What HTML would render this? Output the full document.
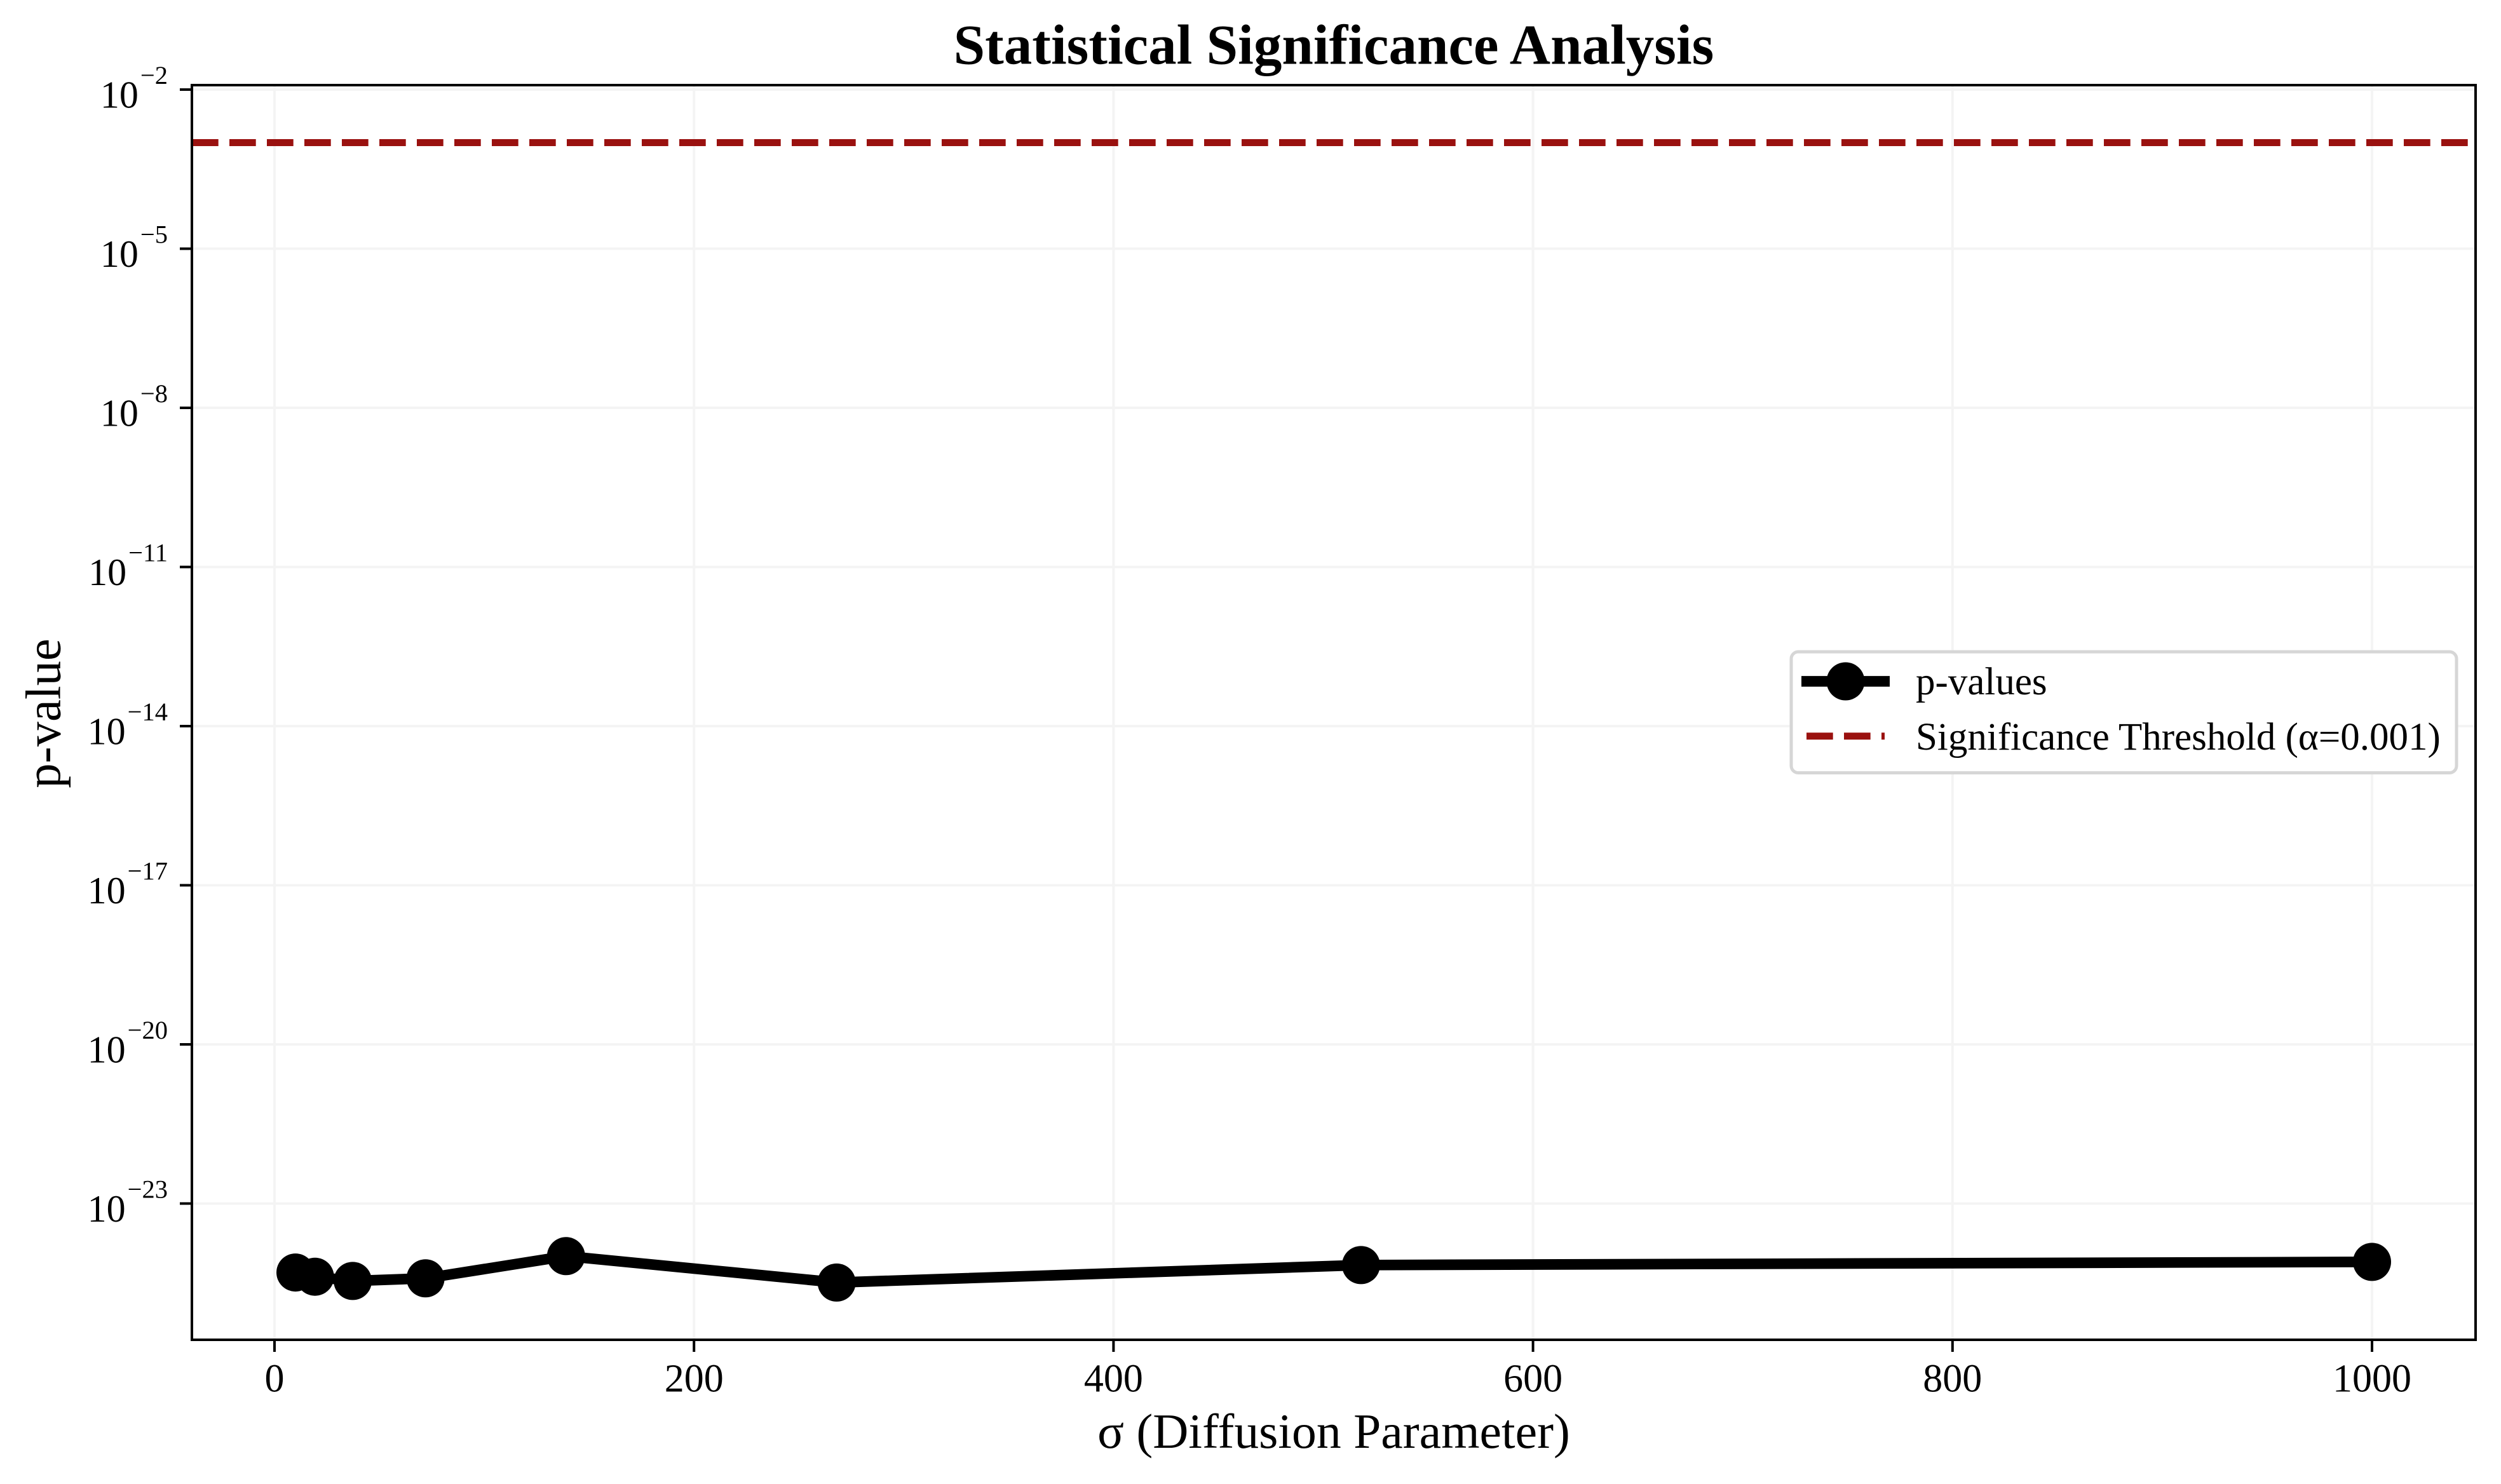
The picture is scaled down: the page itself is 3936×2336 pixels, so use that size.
<!DOCTYPE html>
<html lang="en">
<head>
<meta charset="utf-8">
<title>Statistical Significance Analysis</title>
<style>
html,body{margin:0;padding:0;background:#fff;}
svg{display:block;}
text{font-family:"Liberation Serif","Times New Roman",serif;fill:#000;}
</style>
</head>
<body>
<svg id="chart" xmlns="http://www.w3.org/2000/svg" width="3936" height="2336" viewBox="0 0 3936 2336">
  <rect x="0" y="0" width="3936" height="2336" fill="#ffffff"/>
  <g id="grid"></g>
  <g id="threshold"></g>
  <g id="series"></g>
  <rect x="302" y="134" width="3594" height="1975" fill="none" stroke="#000" stroke-width="4"/>
  <g id="xticks"></g>
  <g id="yticks"></g>
  <text x="2099" y="100.5" text-anchor="middle" font-size="89" font-weight="bold">Statistical Significance Analysis</text>
  <text x="2099" y="2279" text-anchor="middle" font-size="77.7">σ (Diffusion Parameter)</text>
  <text transform="translate(94.5 1123) rotate(-90)" text-anchor="middle" font-size="78.5">p-value</text>
  <g>
    <rect x="2819" y="1026" width="1047" height="190.5" rx="11" ry="11" fill="#ffffff" stroke="#d6d6d6" stroke-width="5"/>
    <line x1="2835" y1="1072.5" x2="2974" y2="1072.5" stroke="#000" stroke-width="16.7"/>
    <circle cx="2904.5" cy="1072.5" r="30" fill="#000"/>
    <text x="3015" y="1093" font-size="61">p-values</text>
    <line x1="2843" y1="1158.7" x2="2966" y2="1158.7" stroke="#9a110f" stroke-width="11" stroke-dasharray="41.7 17.3"/>
    <text x="3015" y="1180" font-size="61">Significance Threshold (α=0.001)</text>
  </g>
</svg>
<script>
var sigmaValues = [10, 19.3, 37.3, 72, 139, 268, 518, 1000];
var pValues = [5.01e-25, 4.17e-25, 3.47e-25, 3.89e-25, 1.02e-24, 3.24e-25, 6.92e-25, 7.94e-25];
var thresholdValue = 0.001;
var xTickValues = [0, 200, 400, 600, 800, 1000];
var yTickExponents = [-2, -5, -8, -11, -14, -17, -20, -23];

function xScale(v) { return 432 + v * 3.301; }
function yScale(p) { return 141 + (-2 - Math.log10(p)) * 83.5; }

var NS = 'http://www.w3.org/2000/svg';
var gridLayer = document.getElementById('grid');
var xTickLayer = document.getElementById('xticks');
var yTickLayer = document.getElementById('yticks');
var thresholdLayer = document.getElementById('threshold');
var seriesLayer = document.getElementById('series');

function drawLine(parent, x1, y1, x2, y2, color, width) {
  var l = document.createElementNS(NS, 'line');
  l.setAttribute('x1', x1);
  l.setAttribute('y1', y1);
  l.setAttribute('x2', x2);
  l.setAttribute('y2', y2);
  l.setAttribute('stroke', color);
  l.setAttribute('stroke-width', width);
  parent.appendChild(l);
  return l;
}

xTickValues.forEach(function (v) {
  var px = xScale(v);
  var g = drawLine(gridLayer, px, 134, px, 2109, '#f4f4f4', 4);
  
  
  var t = drawLine(xTickLayer, px, 2109, px, 2128, '#000', 4);
  
  
  var label = document.createElementNS(NS, 'text');
  
  
  label.setAttribute('x', px);
  label.setAttribute('y', 2190.5);
  label.setAttribute('text-anchor', 'middle');
  label.setAttribute('font-size', 62);
  label.textContent = String(v);
  xTickLayer.appendChild(label);
});

yTickExponents.forEach(function (e) {
  var py = yScale(Math.pow(10, e));
  var g = drawLine(gridLayer, 302, py, 3896, py, '#f4f4f4', 4);
  
  
  var t = drawLine(yTickLayer, 283, py, 302, py, '#000', 4);
  
  
  var label = document.createElementNS(NS, 'text');
  
  
  label.setAttribute('x', 264);
  label.setAttribute('y', py + 28.5);
  label.setAttribute('text-anchor', 'end');
  label.setAttribute('font-size', 60);
  var base = document.createElementNS(NS, 'tspan');
  base.textContent = '10';
  label.appendChild(base);
  var sup = document.createElementNS(NS, 'tspan');
  sup.setAttribute('font-size', 40.5);
  sup.setAttribute('dx', 3);
  sup.setAttribute('dy', -37.5);
  sup.textContent = '\u2212' + Math.abs(e);
  label.appendChild(sup);
  yTickLayer.appendChild(label);
});

var thresholdLine = drawLine(thresholdLayer, 302, yScale(thresholdValue), 3896, yScale(thresholdValue), '#9a110f', 11);


thresholdLine.setAttribute('stroke-dasharray', '41.7 17.3');

var pts = sigmaValues.map(function (s, i) { return xScale(s) + ',' + yScale(pValues[i]); }).join(' ');
var seriesLine = document.createElementNS(NS, 'polyline');


seriesLine.setAttribute('points', pts);
seriesLine.setAttribute('fill', 'none');
seriesLine.setAttribute('stroke', '#000');
seriesLine.setAttribute('stroke-width', 16.7);
seriesLine.setAttribute('stroke-linejoin', 'round');
seriesLayer.appendChild(seriesLine);

sigmaValues.forEach(function (s, i) {
  var c = document.createElementNS(NS, 'circle');
  
  
  c.setAttribute('cx', xScale(s));
  c.setAttribute('cy', yScale(pValues[i]));
  c.setAttribute('r', 30);
  c.setAttribute('fill', '#000');
  seriesLayer.appendChild(c);
});
</script>
</body>
</html>
